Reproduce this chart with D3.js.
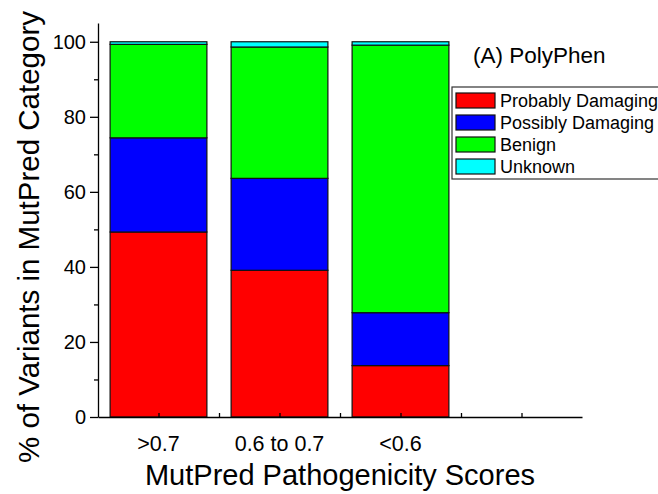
<!DOCTYPE html>
<html lang="en">
<head>
<meta charset="UTF-8">
<title>MutPred vs PolyPhen</title>
<script src="https://d3js.org/d3.v7.min.js"></script>
<style>
    body { margin: 0; background: #ffffff; }
    svg text { font-family: "Liberation Sans", Arial, sans-serif; fill: #000; }
    .axis .domain, .axis .tick line { stroke: #000; stroke-width: 1.3; }
</style>
</head>
<body>
<svg id="chart" width="658" height="494"></svg>
<script>
    // --- data ---
    const categories = [">0.7", "0.6 to 0.7", "<0.6"];
    const probablyDamaging = [49.3, 39.1, 13.7];
    const possiblyDamaging = [25.1, 24.5, 14.1];
    const benign = [24.9, 35.0, 71.3];
    const unknown = [0.7, 1.4, 0.9];
    const seriesNames = ["Probably Damaging", "Possibly Damaging", "Benign", "Unknown"];
    const seriesColors = ["#ff0000", "#0000ff", "#00ff00", "#00ffff"];
    const yTicks = [0, 20, 40, 60, 80, 100];
    const yMinorTicks = [10, 30, 50, 70, 90];

    const svg = d3.select("#chart");
    const plot = {left: 98, right: 582, top: 23, bottom: 417};

    // 4 slots on the x axis, only 3 are used
    const x = d3.scaleLinear().domain([0.5, 4.5]).range([plot.left, plot.right]);
    const y = d3.scaleLinear().domain([0, 105]).range([plot.bottom, plot.top]);
    const barW = (x(2) - x(1)) * 0.8;

    const rows = categories.map((c, i) => ({
        cat: c, pos: i + 1,
        "Probably Damaging": probablyDamaging[i],
        "Possibly Damaging": possiblyDamaging[i],
        "Benign": benign[i],
        "Unknown": unknown[i]
    }));
    const stacked = d3.stack().keys(seriesNames)(rows);

    stacked.forEach((layer, k) => {
        svg.append("g").selectAll("rect")
            .data(layer)
            .join("rect")
            .attr("x", d => x(d.data.pos) - barW / 2)
            .attr("width", barW)
            .attr("y", d => y(d[1]))
            .attr("height", d => y(d[0]) - y(d[1]))
            .attr("fill", seriesColors[k])
            .attr("stroke", "#111")
            .attr("stroke-width", 1.2);
    });

    // y axis (major + minor ticks, outward)
    svg.append("g").attr("class", "axis")
        .attr("transform", `translate(${plot.left},0)`)
        .call(d3.axisLeft(y).tickValues(yTicks).tickSize(8).tickSizeOuter(0).tickPadding(4))
        .call(g => g.selectAll(".tick text").style("font-size", "20px"));
    svg.append("g").attr("class", "axis")
        .attr("transform", `translate(${plot.left},0)`)
        .call(d3.axisLeft(y).tickValues(yMinorTicks).tickSize(4).tickFormat(""))
        .call(g => g.select(".domain").remove());

    // x axis, short inward ticks at centres and between slots
    svg.append("g").attr("class", "axis")
        .attr("transform", `translate(0,${plot.bottom})`)
        .call(d3.axisBottom(x).tickValues(d3.range(1, 4.01, 0.5)).tickSize(-4).tickSizeOuter(0).tickFormat(""));

    svg.append("g").selectAll("text")
        .data(rows)
        .join("text")
        .attr("x", d => x(d.pos))
        .attr("y", 451)
        .attr("text-anchor", "middle")
        .style("font-size", "21.5px")
        .text(d => d.cat);

    // axis titles
    svg.append("text")
        .attr("x", (plot.left + plot.right) / 2)
        .attr("y", 485)
        .attr("text-anchor", "middle")
        .style("font-size", "29px")
        .text("MutPred Pathogenicity Scores");
    svg.append("text")
        .attr("transform", "translate(39,237) rotate(-90)")
        .attr("text-anchor", "middle")
        .style("font-size", "29.5px")
        .text("% of Variants in MutPred Category");

    svg.append("text")
        .attr("x", 473)
        .attr("y", 63)
        .style("font-size", "22.5px")
        .text("(A) PolyPhen");

    // legend (runs off the right edge like the reference)
    const legend = svg.append("g").attr("transform", "translate(452,87)");
    legend.append("rect")
        .attr("width", 230).attr("height", 92)
        .attr("fill", "#fff").attr("stroke", "#333").attr("stroke-width", 1.2);
    const item = legend.selectAll("g.item")
        .data(seriesNames)
        .join("g")
        .attr("class", "item")
        .attr("transform", (d, i) => `translate(4,${6 + i * 22})`);
    item.append("rect")
        .attr("width", 39).attr("height", 15)
        .attr("fill", (d, i) => seriesColors[i])
        .attr("stroke", "#111").attr("stroke-width", 1.2);
    item.append("text")
        .attr("x", 44).attr("y", 14)
        .style("font-size", "18px")
        .text(d => d);
</script>
</body>
</html>
